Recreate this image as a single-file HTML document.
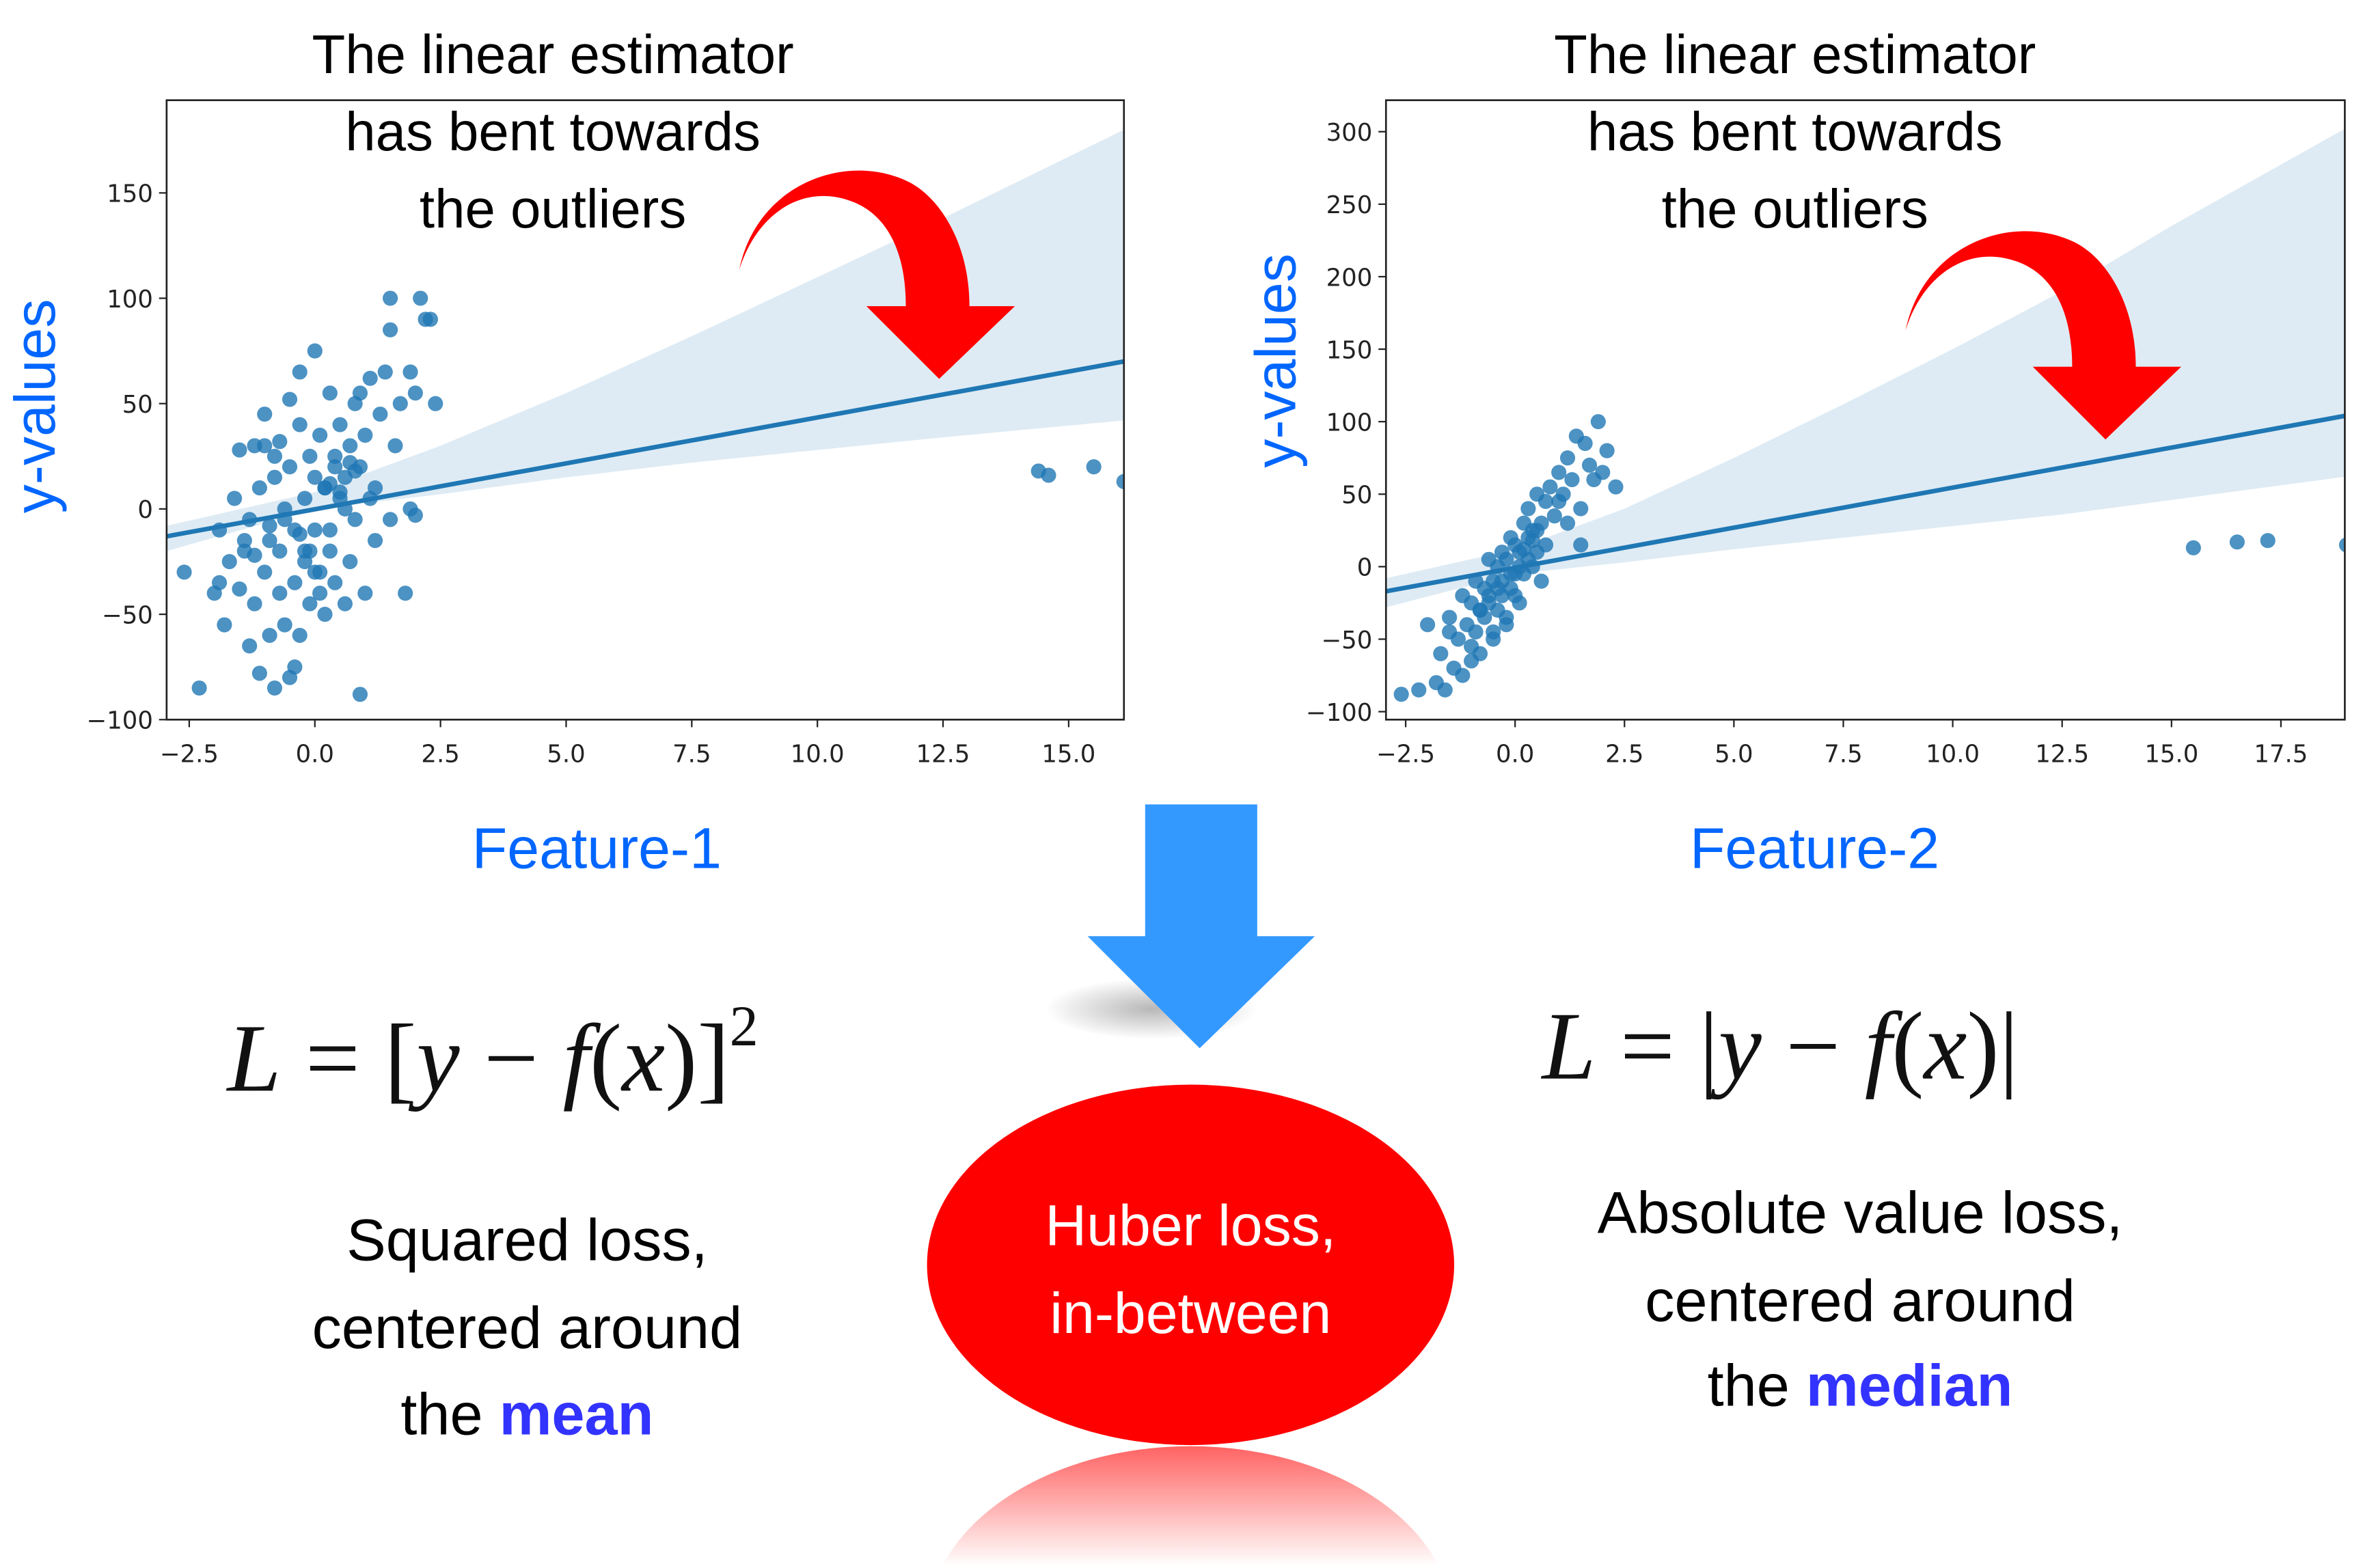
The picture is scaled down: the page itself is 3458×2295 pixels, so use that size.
<!DOCTYPE html>
<html><head><meta charset="utf-8"><style>
html,body{margin:0;padding:0;background:#fff;width:3458px;height:2295px;overflow:hidden}
svg{display:block;overflow:hidden}
text{font-family:"Liberation Sans","DejaVu Sans",sans-serif}
.tick{font-family:"DejaVu Sans","Liberation Sans",sans-serif;font-size:16px;fill:#222}
.math{font-family:"Liberation Serif",serif;font-size:64px;fill:#111}
</style></head><body>
<svg id="root" width="3458" height="2295" viewBox="0 0 1560 1035" xmlns="http://www.w3.org/2000/svg">
<defs>
<linearGradient id="refl" x1="0" y1="0" x2="0" y2="1">
<stop offset="0" stop-color="#ff2020" stop-opacity="0.7"/>
<stop offset="1" stop-color="#ff2020" stop-opacity="0.0"/>
</linearGradient>
<radialGradient id="shadow" cx="0.5" cy="0.5" r="0.5">
<stop offset="0" stop-color="#888" stop-opacity="0.6"/>
<stop offset="1" stop-color="#888" stop-opacity="0"/>
</radialGradient>
</defs>
<g id="left-chart"></g>
<g id="right-chart"></g>

<text x="365" y="48" font-size="36" text-anchor="middle" fill="#000">The linear estimator</text>
<text x="365" y="99" font-size="36" text-anchor="middle" fill="#000">has bent towards</text>
<text x="365" y="150" font-size="36" text-anchor="middle" fill="#000">the outliers</text>
<text x="1185" y="48" font-size="36" text-anchor="middle" fill="#000">The linear estimator</text>
<text x="1185" y="99" font-size="36" text-anchor="middle" fill="#000">has bent towards</text>
<text x="1185" y="150" font-size="36" text-anchor="middle" fill="#000">the outliers</text>

<path fill="#ff0000" d="M488,178 C500,120 560,100 600,120 C620,130 640,160 640,202 L670,202 L620,250 L572,202 L598,202 C598,165 585,140 560,132 C530,122 500,140 488,178 Z"/>
<path fill="#ff0000" d="M1258,218 C1270,160 1330,140 1370,160 C1390,170 1410,200 1410,242 L1440,242 L1390,290 L1342,242 L1368,242 C1368,205 1355,180 1330,172 C1300,162 1270,180 1258,218 Z"/>

<text transform="translate(36,268) rotate(-90)" font-size="38" fill="#0066ff" text-anchor="middle">y-values</text>
<text transform="translate(855,238) rotate(-90)" font-size="38" fill="#0066ff" text-anchor="middle">y-values</text>
<text x="394" y="573" font-size="38" fill="#0066ff" text-anchor="middle">Feature-1</text>
<text x="1198" y="573" font-size="38" fill="#0066ff" text-anchor="middle">Feature-2</text>

<ellipse cx="760" cy="666" rx="70" ry="20" fill="url(#shadow)"/>
<path fill="#3399ff" d="M756,531 L830,531 L830,618 L868,618 L792,692 L718,618 L756,618 Z"/>

<text class="math" x="150" y="720"><tspan font-style="italic">L</tspan> = [<tspan font-style="italic">y</tspan> − <tspan font-style="italic">f</tspan>(<tspan font-style="italic">x</tspan>)]<tspan font-size="38" dy="-30">2</tspan></text>
<text class="math" x="1018" y="712"><tspan font-style="italic">L</tspan> = |<tspan font-style="italic">y</tspan> − <tspan font-style="italic">f</tspan>(<tspan font-style="italic">x</tspan>)|</text>

<text x="348" y="832" font-size="39" text-anchor="middle" fill="#000">Squared loss,</text>
<text x="348" y="890" font-size="39" text-anchor="middle" fill="#000">centered around</text>
<text x="348" y="947" font-size="39" text-anchor="middle" fill="#000">the <tspan fill="#3333ff" font-weight="bold">mean</tspan></text>
<text x="1228" y="814" font-size="39" text-anchor="middle" fill="#000">Absolute value loss,</text>
<text x="1228" y="872" font-size="39" text-anchor="middle" fill="#000">centered around</text>
<text x="1228" y="928" font-size="39" text-anchor="middle" fill="#000">the <tspan fill="#3333ff" font-weight="bold">median</tspan></text>

<ellipse cx="786" cy="835" rx="174" ry="119" fill="#ff0000"/>
<text x="786" y="822" font-size="38" text-anchor="middle" fill="#fff">Huber loss,</text>
<text x="786" y="880" font-size="38" text-anchor="middle" fill="#fff">in-between</text>
<path d="M622,1034 A174,119 0 0 1 950,1034 Z" fill="url(#refl)"/>
</svg>
<script>
// ---- Left chart data ----
const xTicks1 = [-2.5, 0.0, 2.5, 5.0, 7.5, 10.0, 12.5, 15.0];
const yTicks1 = [-100, -50, 0, 50, 100, 150];
const x1 = [-2.6,-2.3,-2.0,-1.9,-1.8,-1.7,-1.6,-1.5,-1.5,-1.4,-1.3,-1.3,-1.2,-1.2,-1.1,-1.1,-1.0,-1.0,-0.9,-0.9,-0.8,-0.8,-0.7,-0.7,-0.6,-0.6,-0.5,-0.5,-0.5,-0.4,-0.4,-0.3,-0.3,-0.3,-0.2,-0.2,-0.1,-0.1,0.0,0.0,0.0,0.1,0.1,0.2,0.2,0.3,0.3,0.4,0.4,0.5,0.5,0.6,0.6,0.7,0.7,0.8,0.8,0.9,0.9,1.0,1.0,1.1,1.2,1.2,1.3,1.4,1.5,1.5,1.6,1.7,1.8,1.9,2.0,2.1,2.2,2.3,2.4,-1.9,-1.0,-0.7,-0.4,0.1,0.4,0.9,1.1,1.5,-0.2,0.3,0.6,-0.8,1.9,2.0,0.2,-1.4,-0.6,-0.1,0.3,-0.9,0.7,-0.3,0.5,-1.2,0.0,0.8,14.4,14.6,15.5,16.1];
const y1 = [-30,-85,-40,-10,-55,-25,5,-38,28,-20,-65,-5,30,-45,-78,10,-30,45,-60,-15,15,-85,-40,32,-55,-5,-80,20,52,-35,-10,-60,40,65,-20,5,-45,25,-10,15,75,-30,35,-50,10,-20,55,-35,25,5,40,-45,15,-25,30,50,-5,55,20,-40,35,62,10,-15,45,65,100,85,30,50,-40,65,55,100,90,90,50,-35,30,-20,-75,-40,20,-88,5,-5,-25,-10,0,25,0,-3,10,-15,0,-20,12,-8,22,-12,8,-22,-30,18,18,16,20,13];
const bandX1 = [-2.95, 0, 2.5, 5, 7.5, 10, 12.5, 16.1];
const bandLo1 = [-20, 0, 7, 15, 22, 28, 34, 42];
const bandHi1 = [-8, 8, 30, 55, 82, 110, 138, 180];
const fit1 = [-13, 70];
const xLim1 = [-2.95, 16.1], yLim1 = [-100, 194];

// ---- Right chart data ----
const xTicks2 = [-2.5, 0.0, 2.5, 5.0, 7.5, 10.0, 12.5, 15.0, 17.5];
const yTicks2 = [-100, -50, 0, 50, 100, 150, 200, 250, 300];
const x2 = [-2.6,-2.2,-2.0,-1.8,-1.7,-1.5,-1.5,-1.4,-1.3,-1.2,-1.2,-1.1,-1.0,-1.0,-0.9,-0.9,-0.8,-0.8,-0.7,-0.7,-0.6,-0.6,-0.5,-0.5,-0.4,-0.4,-0.3,-0.3,-0.2,-0.2,-0.1,-0.1,0.0,0.0,0.1,0.1,0.2,0.2,0.3,0.3,0.4,0.4,0.5,0.5,0.6,0.7,0.7,0.8,0.9,1.0,1.1,1.2,1.3,1.4,1.5,1.6,1.7,1.8,1.9,2.0,2.1,2.3,-1.6,-1.0,-0.5,0.0,0.5,1.0,1.5,-0.8,0.6,1.2,-0.2,-0.6,-0.3,0.1,0.3,-0.1,0.2,-0.4,0.4,15.5,16.5,17.2,19.0];
const y2 = [-88,-85,-40,-80,-60,-45,-35,-70,-50,-20,-75,-40,-55,-25,-10,-45,-30,-60,-15,-35,5,-25,-45,-10,-30,0,-20,10,-35,5,-15,20,-5,15,-25,10,30,-5,20,40,0,25,10,50,30,15,45,55,35,65,50,75,60,90,40,85,70,60,100,65,80,55,-85,-65,-50,-20,25,45,15,-30,-10,30,-40,-20,-10,0,5,-5,12,-15,18,13,17,18,15];
const bandX2 = [-2.95, 0, 2.5, 5, 7.5, 10, 12.5, 15, 18.96];
const bandLo2 = [-28, -5, 3, 12, 20, 28, 36, 46, 62];
const bandHi2 = [-8, 12, 40, 75, 112, 150, 190, 235, 302];
const fit2 = [-17, 104];
const xLim2 = [-2.95, 18.96], yLim2 = [-105.5, 321.7];

const NS = "http://www.w3.org/2000/svg";
function mk(tag, attrs, parent){ const e=document.createElementNS(NS,tag); for(const k in attrs) e.setAttribute(k,attrs[k]); parent.appendChild(e); return e; }

function drawChart(g, box, xLim, yLim, xTicks, yTicks, xs, ys, bx, blo, bhi, fit){
  const sx = v => box.x0 + (v - xLim[0])/(xLim[1]-xLim[0])*(box.x1-box.x0);
  const sy = v => box.y1 - (v - yLim[0])/(yLim[1]-yLim[0])*(box.y1-box.y0);
  const clip = "clip" + box.x0;
  const cp = mk("clipPath",{id:clip},g); mk("rect",{x:box.x0,y:box.y0,width:box.x1-box.x0,height:box.y1-box.y0},cp);
  const inner = mk("g",{"clip-path":"url(#"+clip+")"},g);
  let pts = bx.map((x,i)=>sx(x)+","+sy(bhi[i]));
  pts = pts.concat(bx.map((x,i)=>sx(x)+","+sy(blo[i])).reverse());
  const band = mk("polygon",{points:pts.join(" "),fill:"#1f77b4","fill-opacity":"0.15"},inner);
  
  
  xs.forEach((x,i)=>{
    const c = mk("circle",{cx:sx(x),cy:sy(ys[i]),r:5,fill:"#1f77b4","fill-opacity":"0.8"},inner);
    
    
  });
  const ln = mk("line",{x1:sx(xLim[0]),y1:sy(fit[0]),x2:sx(xLim[1]),y2:sy(fit[1]),stroke:"#1f77b4","stroke-width":3},inner);
  
  
  const fr = mk("rect",{x:box.x0,y:box.y0,width:box.x1-box.x0,height:box.y1-box.y0,fill:"none",stroke:"#222","stroke-width":1.2},g);
  
  
  xTicks.forEach(t=>{
    const X=sx(t);
    mk("line",{x1:X,y1:box.y1,x2:X,y2:box.y1+5,stroke:"#222"},g);
    const tx = mk("text",{x:X,y:box.y1+28,"text-anchor":"middle",class:"tick"},g);
    tx.textContent = t.toFixed(1).replace("-","−");
    
    
  });
  yTicks.forEach(t=>{
    const Y=sy(t);
    mk("line",{x1:box.x0-5,y1:Y,x2:box.x0,y2:Y,stroke:"#222"},g);
    const tx = mk("text",{x:box.x0-9,y:Y+6,"text-anchor":"end",class:"tick"},g);
    tx.textContent = String(t).replace("-","−");
    
    
  });
}
drawChart(document.getElementById("left-chart"),{x0:110,x1:742,y0:66,y1:475},xLim1,yLim1,xTicks1,yTicks1,x1,y1,bandX1,bandLo1,bandHi1,fit1);
drawChart(document.getElementById("right-chart"),{x0:915,x1:1548,y0:66,y1:475},xLim2,yLim2,xTicks2,yTicks2,x2,y2,bandX2,bandLo2,bandHi2,fit2);
</script>
</body></html>
